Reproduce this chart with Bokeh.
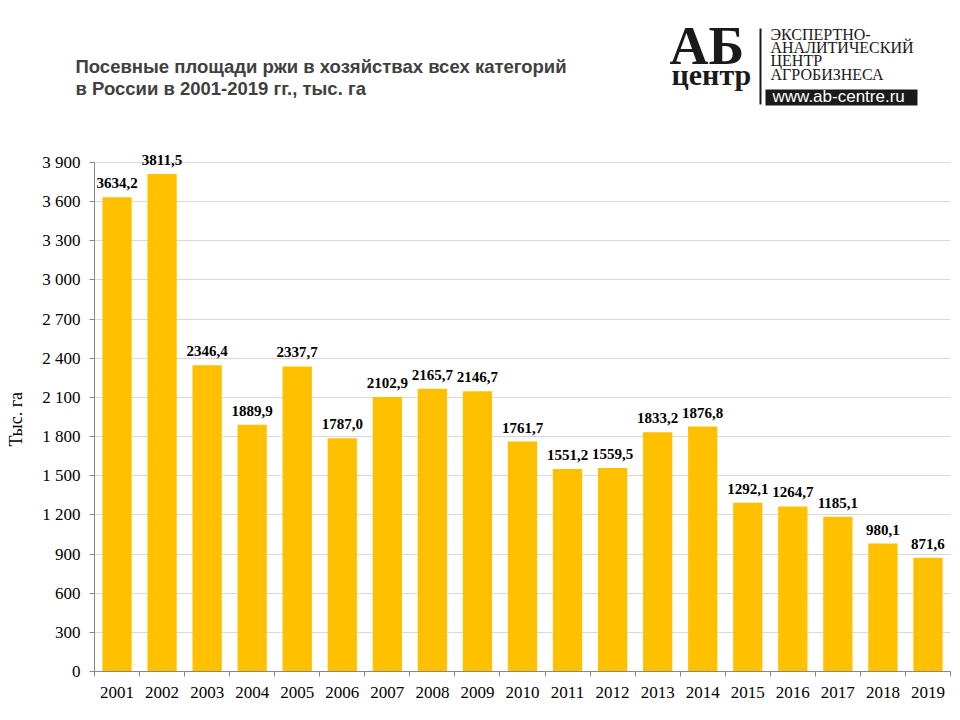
from bokeh.plotting import figure
from bokeh.models import ColumnDataSource, LabelSet, Label, FixedTicker, Range1d, Grid
from bokeh.core.properties import value
from bokeh.embed import file_html
from bokeh.resources import INLINE

# ---- data ----
years = ["2001", "2002", "2003", "2004", "2005", "2006", "2007", "2008", "2009", "2010",
         "2011", "2012", "2013", "2014", "2015", "2016", "2017", "2018", "2019"]
areas = [3634.2, 3811.5, 2346.4, 1889.9, 2337.7, 1787.0, 2102.9, 2165.7, 2146.7, 1761.7,
         1551.2, 1559.5, 1833.2, 1876.8, 1292.1, 1264.7, 1185.1, 980.1, 871.6]
y_ticks = [0, 300, 600, 900, 1200, 1500, 1800, 2100, 2400, 2700, 3000, 3300, 3600, 3900]
y_tick_labels = ["0", "300", "600", "900", "1 200", "1 500", "1 800", "2 100", "2 400",
                 "2 700", "3 000", "3 300", "3 600", "3 900"]
title_lines = ["Посевные площади ржи в хозяйствах всех категорий",
               "в России в 2001-2019 гг., тыс. га"]
y_label = "Тыс.  га"
logo_big = "АБ"
logo_small = "центр"
logo_lines = ["ЭКСПЕРТНО-", "АНАЛИТИЧЕСКИЙ", "ЦЕНТР", "АГРОБИЗНЕСА"]
logo_url = "www.ab-centre.ru"

# ---- geometry (page pixels) ----
W, H = 960, 720
FRAME_L, FRAME_R = 94, 950          # plot area left / right
Y0_PX, YTOP_PX = 671, 162           # rows of value 0 and of the top tick
n = len(years)
Y_TOP_VAL = y_ticks[-1]
ppc = (FRAME_R - FRAME_L) / n               # pixels per category
ppu = (Y0_PX - YTOP_PX) / Y_TOP_VAL         # pixels per value unit


def dx(X):
    return 0.5 + (X - FRAME_L) / ppc


def dy(Y):
    return (Y0_PX - Y) / ppu


xs = [i + 1 for i in range(n)]
labels = [f"{v:.1f}".replace(".", ",") for v in areas]
src = ColumnDataSource(dict(x=xs, v=areas, lbl=labels))

p = figure(width=W, height=H, x_range=Range1d(dx(0), dx(W)), y_range=Range1d(dy(H), dy(0)),
           output_backend="svg", toolbar_location=None,
           min_border=0, min_border_left=0, min_border_right=0,
           min_border_top=0, min_border_bottom=0)
p.outline_line_color = None
p.background_fill_color = "white"

# grid lines limited to the plot area
p.xgrid.grid_line_color = None
p.ygrid.grid_line_color = None
if "cross_bounds" in Grid.properties():
    g = Grid(dimension=1, ticker=FixedTicker(ticks=y_ticks), grid_line_color="#d9d9d9",
             bounds=(0, Y_TOP_VAL), cross_bounds=(0.5, n + 0.5))
    p.add_layout(g)
else:
    p.segment(x0=[0.5] * len(y_ticks), x1=[n + 0.5] * len(y_ticks), y0=y_ticks, y1=y_ticks,
              line_color="#d9d9d9", line_width=1)

p.vbar(x="x", top="v", width=0.65, source=src, fill_color="#FFC000", line_color=None)

# x axis
xa = p.xaxis[0]
xa.fixed_location = 0
xa.bounds = (0.5, n + 0.5)
xa.ticker = FixedTicker(ticks=xs, minor_ticks=[x - 0.5 for x in xs] + [xs[-1] + 0.5])
xa.major_label_overrides = {x: y for x, y in zip(xs, years)}
xa.major_tick_out = 0
xa.major_tick_in = 0
xa.minor_tick_out = 5
xa.minor_tick_in = 0
xa.minor_tick_line_color = "#868686"
xa.axis_line_color = "#868686"
xa.major_label_text_font = "Liberation Serif"
xa.major_label_text_font_size = "17px"
xa.major_label_text_color = "black"
xa.major_label_standoff = 10

# y axis
ya = p.yaxis[0]
ya.fixed_location = 0.5
ya.bounds = (0, Y_TOP_VAL)
ya.ticker = FixedTicker(ticks=y_ticks)
ya.major_label_overrides = {t: l for t, l in zip(y_ticks, y_tick_labels)}
ya.major_tick_out = 5
ya.major_tick_in = 0
ya.minor_tick_out = 0
ya.minor_tick_in = 0
ya.major_tick_line_color = "#868686"
ya.axis_line_color = "#868686"
ya.major_label_text_font = "Liberation Serif"
ya.major_label_text_font_size = "17px"
ya.major_label_text_color = "black"
ya.major_label_standoff = 9
ya.axis_label = y_label
ya.axis_label_text_font = "Liberation Serif"
ya.axis_label_text_font_size = "18px"
ya.axis_label_text_font_style = "normal"
ya.axis_label_text_color = "black"
ya.axis_label_standoff = 13

p.add_layout(LabelSet(x="x", y="v", text="lbl", source=src, text_align="center",
                      text_baseline="alphabetic", y_offset=9,
                      text_font=value("Liberation Serif"), text_font_style="bold",
                      text_font_size="15px", text_color="black"))


# ---- header: title and logo ----
def add_text(X, Y, txt, font, size, color, style="normal"):
    shift = 0.33 * size  # compensate rendered baseline position
    p.add_layout(Label(x=dx(X), y=dy(Y - shift), text=txt, text_font=font,
                       text_font_size=f"{size}px", text_font_style=style, text_color=color,
                       text_baseline="alphabetic", text_align="left"))


for line, base in zip(title_lines, [72, 94]):
    add_text(75, base, line, "Liberation Sans", 18.5, "#404040", "bold")

add_text(669, 63, logo_big, "Liberation Serif", 54, "#1a1a1a", "bold")
add_text(671, 84, logo_small, "Liberation Serif", 30, "#1a1a1a", "bold")
p.segment(x0=[dx(760)], y0=[dy(28)], x1=[dx(760)], y1=[dy(104)], line_width=2,
          line_color="#1a1a1a")
for line, base in zip(logo_lines, [39, 52, 65, 79]):
    add_text(770, base, line, "Liberation Serif", 16, "#1a1a1a")
p.quad(left=[dx(765)], right=[dx(917)], top=[dy(89)], bottom=[dy(105)],
       fill_color="#1a1a1a", line_color=None)
add_text(772, 102, logo_url, "Liberation Sans", 17, "white")

open("out.html", "w").write(file_html(p, INLINE))
